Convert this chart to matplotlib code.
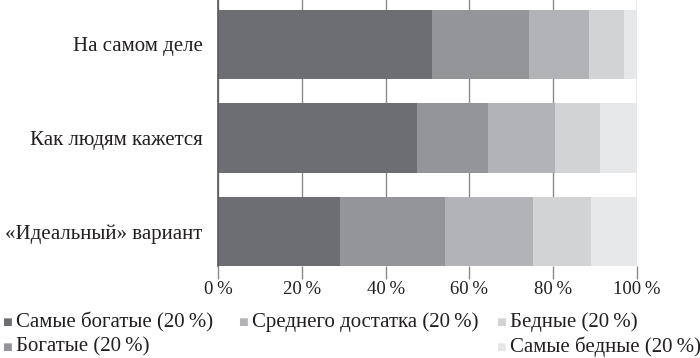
import numpy as np
import matplotlib
matplotlib.use("Agg")
import matplotlib.pyplot as plt

# data -------------------------------------------------------------
categories = ["«Идеальный» вариант", "Как людям кажется", "На самом деле"]
series_names = ["Самые богатые (20\u2009%)", "Богатые (20\u2009%)",
                "Среднего достатка (20\u2009%)", "Бедные (20\u2009%)",
                "Самые бедные (20\u2009%)"]
# shares in %, rows follow categories (bottom -> top)
richest = [29.1, 47.6, 51.1]
rich = [25.0, 16.9, 23.1]
middle = [21.0, 15.9, 14.3]
poor = [14.0, 10.8, 8.3]
poorest = [10.9, 8.8, 3.2]
xticks = [0, 20, 40, 60, 80, 100]

colors = ["#6d6e71", "#939598", "#b1b3b6", "#d1d3d4", "#e6e7e8"]
#------------------------------------------------------------------

plt.rcParams['font.family'] = ['Liberation Serif', 'DejaVu Serif']
text_color = "#231f20"

fig = plt.figure(figsize=(7, 3.58), dpi=100)
ax = fig.add_axes([218/700, 1 - 266/358, 419/700, 266/358])

y = np.arange(len(categories))
left = np.zeros(len(categories))
for vals, c in zip([richest, rich, middle, poor, poorest], colors):
    ax.barh(y, vals, left=left, height=0.74, color=c, zorder=3)
    left += np.array(vals)

ax.set_xlim(0, 100)
ax.set_ylim(-0.37, 2.476)
ax.set_xticks(xticks)
ax.set_xticklabels([f"{v}\u2009%" for v in xticks], fontsize=13.5, color=text_color)
ax.set_yticks(y)
ax.set_yticklabels(categories, fontsize=15, color=text_color)
ax.tick_params(axis='y', length=0, pad=11)
ax.tick_params(axis='x', length=9, width=1, color="#8a8a8a", pad=2)
ax.grid(axis='x', color="#8a8a8a", linewidth=1, zorder=1)
for s in ["top", "right", "bottom"]:
    ax.spines[s].set_visible(False)
ax.spines["left"].set_color("#58595b")
ax.spines["left"].set_linewidth(1.2)
ax.spines["left"].set_zorder(4)

# legend, laid out by hand as in the original
spots = [(2, 322), (2, 347), (238, 322), (496, 322), (496, 347)]
for name, c, (px, py) in zip(series_names, colors, spots):
    fig.text(px/700, 1 - py/358, "\u25a0", fontsize=7.5, color=c, va="center",
             family="DejaVu Sans")
    fig.text((px + 14)/700, 1 - py/358, name, fontsize=15, color=text_color,
             va="center")

plt.savefig("out.png", dpi=100)
